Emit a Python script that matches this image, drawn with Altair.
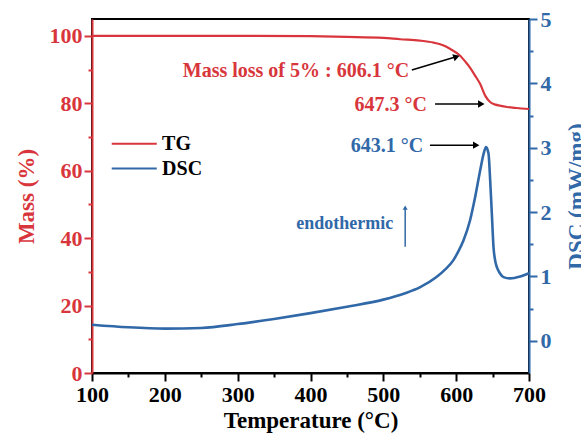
import altair as alt
import pandas as pd

# ---------------- data ----------------
tg_temp = [100, 200, 300, 400, 450, 500, 523, 550, 569, 582, 592, 605.5, 612, 619, 626, 633, 640, 647, 654, 660, 670, 683, 700]
tg_mass = [100, 100, 100, 99.9, 99.7, 99.4, 99.0, 98.6, 98.0, 97.2, 96.1, 94.1, 92.5, 90.6, 88.2, 85.7, 82.2, 80.3, 79.6, 79.3, 78.9, 78.6, 78.3]

dsc_temp = [100, 150, 200, 250, 300, 350, 400, 450, 500, 530, 550, 573, 585, 596, 603, 610, 619, 626, 633, 638, 641, 644.4, 646.7, 649, 651.3, 653.5, 656, 660, 665, 674, 688, 700]
dsc_val = [0.25, 0.21, 0.19, 0.20, 0.26, 0.34, 0.43, 0.53, 0.64, 0.74, 0.83, 0.99, 1.11, 1.25, 1.39, 1.56, 1.87, 2.23, 2.65, 2.92, 3.01, 2.91, 2.49, 1.97, 1.45, 1.25, 1.14, 1.05, 0.99, 0.97, 1.00, 1.05]

x_ticks = list(range(100, 701, 50))
mass_ticks = list(range(0, 101, 10))
dsc_ticks = [0, 0.5, 1, 1.5, 2, 2.5, 3, 3.5, 4, 4.5, 5]

ann_mass_text = ["Mass loss of 5% : 606.1 °C", "647.3 °C"]
ann_mass_T = [535.4, 560.0]
ann_mass_y = [89.6, 79.6]

ann_dsc_text = ["643.1 °C"]
ann_dsc_T = [554.7]
ann_dsc_y = [3.02]

endo_text = ["endothermic"]
endo_T = [513.5]
endo_y = [1.82]

legend_names = ["TG", "DSC"]
legend_y = [68.0, 60.65]
legend_T0 = 127.1
legend_T1 = 188.9
legend_Ttext = 196.2

RED = "#d8363c"
BLUE = "#3068a8"
FONT = "Liberation Serif"

# ---------------- scales / axes ----------------
xscale = alt.Scale(domain=[100, 700], nice=False, zero=False)
mass_scale = alt.Scale(domain=[0, 105], nice=False, zero=False)
dsc_scale = alt.Scale(domain=[-0.5, 5], nice=False, zero=False)

common_axis = dict(grid=False, labelFont=FONT, labelFontWeight="bold", labelFontSize=22,
                   titleFont=FONT, titleFontWeight="bold", titleFontSize=23,
                   domainWidth=2, tickWidth=2)

xaxis = alt.Axis(values=x_ticks, format="d",
                 labelExpr="datum.value % 100 == 0 ? datum.label : ''",
                 tickSize={"condition": {"test": "datum.value % 100 == 0", "value": 8}, "value": 4},
                 domainColor="black", tickColor="black", labelColor="black", titleColor="black",
                 labelPadding=3, titlePadding=4, labelFlush=False, **common_axis)

mass_axis = alt.Axis(values=mass_ticks, format="d", orient="left",
                     labelExpr="datum.value % 20 == 0 ? datum.label : ''",
                     tickSize={"condition": {"test": "datum.value % 20 == 0", "value": 8}, "value": 4},
                     domainColor=RED, tickColor=RED, labelColor=RED, titleColor=RED,
                     labelPadding=2, titleX=-66, titleY=177, titleBaseline="middle",
                     titleAlign="center", titleAngle=270,
                     labelFlush=False, **common_axis)

dsc_axis = alt.Axis(values=dsc_ticks, orient="right",
                    labelExpr="datum.value % 1 == 0 ? format(datum.value, 'd') : ''",
                    tickSize={"condition": {"test": "datum.value % 1 == 0", "value": 8}, "value": 4},
                    domainColor=BLUE, tickColor=BLUE, labelColor=BLUE, titleColor=BLUE,
                    labelPadding=3, titlePadding=37, titleAngle=270, labelFlush=False, **common_axis)

X = alt.X("T:Q", scale=xscale, axis=xaxis, title="Temperature (°C)")
X2 = alt.X2("T2:Q")

# ---------------- data frames ----------------
tg_df = pd.DataFrame({"T": tg_temp, "v": tg_mass})
dsc_df = pd.DataFrame({"T": dsc_temp, "v": dsc_val})

tg_line = alt.Chart(tg_df).mark_line(color=RED, strokeWidth=2.2, interpolate="monotone").encode(
    x=X, y=alt.Y("v:Q", scale=mass_scale, axis=mass_axis, title="Mass (%)"))

dsc_line = alt.Chart(dsc_df).mark_line(color=BLUE, strokeWidth=2.6, interpolate="monotone").encode(
    x=X, y=alt.Y("v:Q", scale=dsc_scale, axis=dsc_axis, title="DSC (mW/mg)"))

def ym(field="v"):
    return alt.Y(f"{field}:Q", scale=mass_scale, axis=None)

def yd(field="v"):
    return alt.Y(f"{field}:Q", scale=dsc_scale, axis=None)

# annotation texts
mass_txt = alt.Chart(pd.DataFrame({"T": ann_mass_T, "v": ann_mass_y, "t": ann_mass_text})).mark_text(
    align="right", baseline="middle", font=FONT, fontWeight="bold", fontSize=20, color=RED
).encode(x=X, y=ym(), text="t:N")

dsc_txt = alt.Chart(pd.DataFrame({"T": ann_dsc_T, "v": ann_dsc_y, "t": ann_dsc_text})).mark_text(
    align="right", baseline="middle", font=FONT, fontWeight="bold", fontSize=20, color=BLUE
).encode(x=X, y=yd(), text="t:N")

endo_txt = alt.Chart(pd.DataFrame({"T": endo_T, "v": endo_y, "t": endo_text})).mark_text(
    align="right", baseline="middle", font=FONT, fontWeight="bold", fontSize=18, color=BLUE
).encode(x=X, y=yd(), text="t:N")

# arrows (mass coordinates)
arrow_mass = pd.DataFrame({"T": [539.1, 571.0], "T2": [601.0, 634.0],
                           "v": [89.9, 79.8], "v2": [93.9, 79.8]})
arrow_mass_rule = alt.Chart(arrow_mass).mark_rule(color="black", strokeWidth=1.5).encode(
    x=X, x2=X2, y=ym(), y2=alt.Y2("v2:Q"))
head_mass = pd.DataFrame({"T": [600.5, 634.5], "v": [93.8, 79.8], "a": [342, 0]})
arrow_mass_head = alt.Chart(head_mass).mark_point(shape="triangle-right", filled=True, color="black",
                                                  size=55, opacity=1).encode(
    x=X, y=ym(), angle=alt.Angle("a:Q", scale=None))

# arrows (dsc coordinates)
arrow_dsc = pd.DataFrame({"T": [564.0], "T2": [628.0], "v": [3.04], "v2": [3.04]})
arrow_dsc_rule = alt.Chart(arrow_dsc).mark_rule(color="black", strokeWidth=1.5).encode(
    x=X, x2=X2, y=yd(), y2=alt.Y2("v2:Q"))
arrow_dsc_head = alt.Chart(pd.DataFrame({"T": [627.5], "v": [3.04]})).mark_point(
    shape="triangle-right", filled=True, color="black", size=55, opacity=1).encode(x=X, y=yd())

endo = pd.DataFrame({"T": [530.0], "v": [1.46], "v2": [2.06]})
endo_rule = alt.Chart(endo).mark_rule(color=BLUE, strokeWidth=1.5).encode(
    x=X, y=yd(), y2=alt.Y2("v2:Q"))
endo_head = alt.Chart(pd.DataFrame({"T": [530.0], "v": [2.07]})).mark_point(
    shape="triangle-up", filled=True, color=BLUE, size=25, opacity=1).encode(x=X, y=yd())

# manual legend
leg_df = pd.DataFrame({"T": [legend_T0] * 2, "T2": [legend_T1] * 2, "v": legend_y,
                       "name": legend_names, "Tt": [legend_Ttext] * 2})
leg_rules = alt.Chart(leg_df).mark_rule(strokeWidth=2.2).encode(
    x=X, x2=X2, y=ym(),
    color=alt.Color("name:N", scale=alt.Scale(domain=legend_names, range=[RED, BLUE]), legend=None))
leg_text = alt.Chart(leg_df).mark_text(align="left", baseline="middle", font=FONT, fontWeight="bold",
                                       fontSize=20, color="black").encode(
    x=alt.X("Tt:Q", scale=xscale, axis=xaxis, title="Temperature (°C)"), y=ym(), text="name:N")

chart = alt.layer(
    tg_line, dsc_line, mass_txt, dsc_txt, endo_txt,
    arrow_mass_rule, arrow_mass_head, arrow_dsc_rule, arrow_dsc_head,
    endo_rule, endo_head, leg_rules, leg_text
).resolve_scale(y="independent").properties(
    width=437, height=354,
    autosize=alt.AutoSizeParams(type="none"),
    padding={"left": 92, "top": 19, "right": 52, "bottom": 66},
    background="white",
).configure_view(stroke="black", strokeWidth=2)

chart.save("out.html", embed_options={"renderer": "svg", "actions": False})
